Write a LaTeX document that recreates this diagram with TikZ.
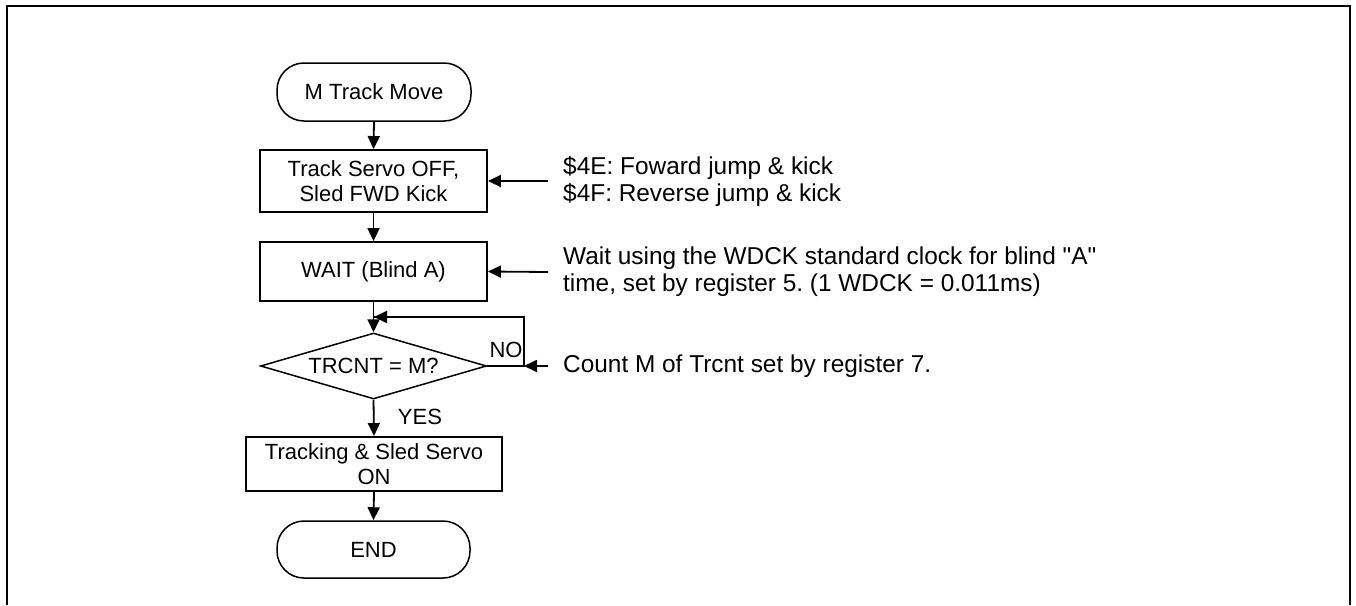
\documentclass[tikz,border=0pt]{standalone}
\usepackage{fontspec}
\setmainfont{Liberation Sans}[Ligatures=TeXOff]
\usetikzlibrary{arrows.meta,shapes.geometric}
\frenchspacing
\begin{document}
\begin{tikzpicture}[x=1pt,y=-1pt,
  every node/.style={inner sep=0pt},
  chart/.style={font=\fontsize{22}{25}\selectfont, align=center},
  term/.style={chart, draw, line width=1.5pt, rounded corners=27pt},
  proc/.style={chart, draw, line width=1.9pt},
  deci/.style={chart, draw, line width=1.5pt, diamond, aspect=3.4},
  note/.style={font=\fontsize{24.4}{27}\selectfont, align=left, anchor=west},
  lbl/.style={font=\fontsize{22}{25}\selectfont},
  flow/.style={line width=1.8pt, -{Triangle[length=13pt,width=12pt]}},
  conn/.style={line width=1.8pt}]
\useasboundingbox (0,0) rectangle (1356,605);
\draw[line width=2pt] (7,605) -- (7,6) -- (1350,6) -- (1350,605);

\node[term, minimum width=194pt, minimum height=58pt] (start) at (374,92) {M Track Move};
\node[proc, minimum width=227pt, minimum height=62pt] (b1) at (373.5,181) {Track Servo OFF,\\Sled FWD Kick};
\node[proc, minimum width=227pt, minimum height=59pt] (b2) at (373.5,271.5) {WAIT (Blind A)};
\node[deci, minimum width=226pt, minimum height=66pt] (dec) at (373.5,366) {TRCNT = M?};
\node[proc, minimum width=256pt, minimum height=54pt] (b3) at (374,464) {Tracking \& Sled Servo\\ON};
\node[term, minimum width=193pt, minimum height=57pt] (end) at (373.5,549.5) {END};

\draw[flow] (start.south) -- (b1.north);
\draw[flow] (b1.south) -- (b2.north);
\draw[flow] (b2.south) -- (dec.north);
\draw[flow] (dec.south) -- (b3.north);
\draw[flow] (b3.south) -- (end.north);

\coordinate (lc) at (524,366);
\coordinate (lt) at (524,317);
\coordinate (lm) at (374,317);
\draw[conn] (dec.east) -- (lc) -- (lt) -- (lm);
\draw[flow] (lt) -- (lm);

\node[lbl] (no) at (506,350) {NO};
\node[lbl] (yes) at (420,417) {YES};

\node[note] (n1) at (563,181) {\$4E: Foward jump \& kick\\\$4F: Reverse jump \& kick};
\node[note] (n2) at (563,272) {Wait using the WDCK standard clock for blind "A"\\time, set by register 5. (1 WDCK = 0.011ms)};
\node[note] (n3) at (563,366) {Count M of Trcnt set by register 7.};

\coordinate (a1) at (548,181);
\coordinate (a2) at (548,272);
\coordinate (a3) at (548,366);
\draw[flow] (a1) -- (b1.east);
\draw[flow] (a2) -- (b2.east);
\draw[flow] (a3) -- (lc);
\end{tikzpicture}
\end{document}
